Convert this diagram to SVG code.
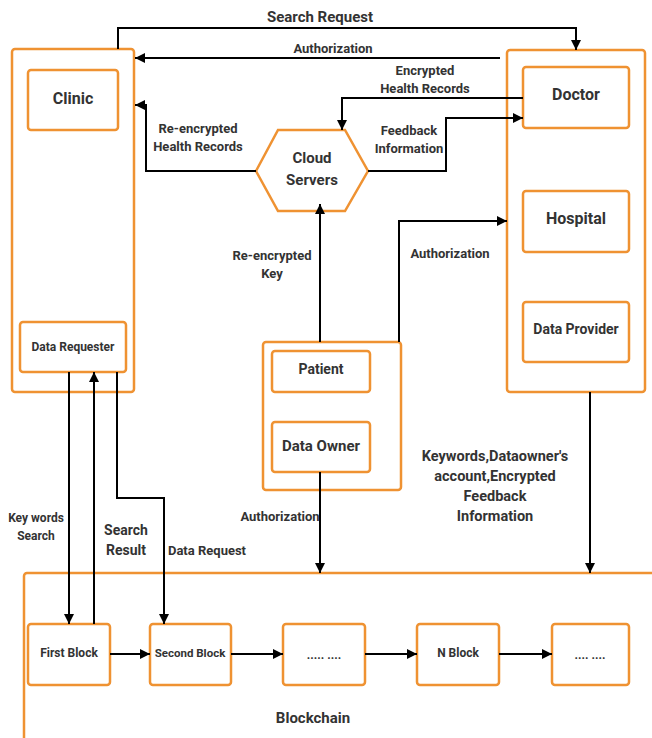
<svg xmlns="http://www.w3.org/2000/svg" width="652" height="738" viewBox="0 0 652 738">
<defs>
<marker id="ah" viewBox="0 0 10 10" refX="10" refY="5" markerWidth="10" markerHeight="10" markerUnits="userSpaceOnUse" orient="auto"><path d="M0,0 L10,5 L0,10 z" fill="#000"/></marker>
<style>
.box{fill:#fff;stroke:#EF9232;stroke-width:2.5}
.c{fill:none;stroke:#000;stroke-width:2;marker-end:url(#ah)}
text{font-family:Roboto,"Liberation Sans",sans-serif;font-weight:bold;fill:#333;text-anchor:middle}
.t16{font-size:16px}.t15{font-size:15px}.t14{font-size:14px}.t13{font-size:13px}.t12{font-size:12px}.t11{font-size:11.5px}.kw{font-size:14.5px}
</style>
</defs>
<rect width="652" height="738" fill="#fff"/>
<g id="clinic-group">
<rect class="box" x="12" y="49" width="122" height="343" rx="3"/>
</g>
<g id="clinic"><rect class="box" x="28" y="70" width="90" height="60" rx="3"/><text class="t16" x="73" y="104">Clinic</text></g>
<g id="data-requester"><rect class="box" x="20" y="322" width="106" height="50" rx="3"/><text class="t12" x="73" y="351">Data Requester</text></g>
<g id="provider-group"><rect class="box" x="507" y="50" width="138" height="342" rx="3"/></g>
<g id="doctor"><rect class="box" x="523" y="67" width="106" height="61" rx="3"/><text class="t16" x="576" y="100">Doctor</text></g>
<g id="hospital"><rect class="box" x="523" y="191" width="106" height="61" rx="3"/><text class="t16" x="576" y="224">Hospital</text></g>
<g id="data-provider"><rect class="box" x="523" y="302" width="106" height="60" rx="3"/><text class="t14" x="576" y="334">Data Provider</text></g>
<g id="cloud-servers"><polygon class="box" points="256,171 278,130 345,130 368,171 345,211 278,211"/><text class="t15" x="312" y="163">Cloud</text><text class="t15" x="312" y="185">Servers</text></g>
<g id="owner-group"><rect class="box" x="263" y="342" width="138" height="148" rx="3"/></g>
<g id="patient"><rect class="box" x="272" y="351" width="98" height="41" rx="3"/><text class="t14" x="321" y="374">Patient</text></g>
<g id="data-owner"><rect class="box" x="272" y="422" width="98" height="50" rx="3"/><text class="t15" x="321" y="451">Data Owner</text></g>
<g id="blockchain"><rect class="box" x="24" y="573" width="640" height="180" rx="3"/><text class="t15" x="313" y="723">Blockchain</text></g>
<g id="first-block"><rect class="box" x="28" y="624" width="82" height="61" rx="3"/><text class="t12" x="69" y="657">First Block</text></g>
<g id="second-block"><rect class="box" x="150" y="624" width="81" height="61" rx="3"/><text class="t11" x="190" y="657">Second Block</text></g>
<g id="dots-block1"><rect class="box" x="283" y="624" width="82" height="61" rx="3"/><text class="t12" x="324" y="659">..... ....</text></g>
<g id="n-block"><rect class="box" x="417" y="624" width="82" height="61" rx="3"/><text class="t12" x="458" y="657">N Block</text></g>
<g id="dots-block2"><rect class="box" x="552" y="624" width="77" height="61" rx="3"/><text class="t12" x="590" y="659">.... ....</text></g>
<g id="connectors">
<path class="c" d="M118,49 V28 H576 V50"/>
<path class="c" d="M500,58 H135"/>
<path class="c" d="M523,98 H342 V130"/>
<path class="c" d="M368,171 H446 V118 H523"/>
<path class="c" d="M256,171 H146 V105 H135"/>
<path class="c" d="M320,342 V204"/>
<path class="c" d="M399,342 V221 H507"/>
<path class="c" d="M69,372 V624"/>
<path class="c" d="M94,624 V372"/>
<path class="c" d="M117,372 V498 H164 V624"/>
<path class="c" d="M320,472 V573"/>
<path class="c" d="M590,392 V573"/>
<path class="c" d="M110,654 H150"/>
<path class="c" d="M231,654 H283"/>
<path class="c" d="M365,654 H417"/>
<path class="c" d="M499,654 H552"/>
</g>
<g id="labels">
<text class="t15" x="320" y="22">Search Request</text>
<text class="t13" x="333" y="53">Authorization</text>
<text class="t13" x="425" y="75">Encrypted</text>
<text class="t13" x="425" y="93">Health Records</text>
<text class="t13" x="409" y="135">Feedback</text>
<text class="t13" x="409" y="153">Information</text>
<text class="t13" x="198" y="133">Re-encrypted</text>
<text class="t13" x="198" y="151">Health Records</text>
<text class="t13" x="272" y="260">Re-encrypted</text>
<text class="t13" x="272" y="278">Key</text>
<text class="t13" x="450" y="258">Authorization</text>
<text class="kw" x="495" y="461">Keywords,Dataowner's</text>
<text class="kw" x="495" y="481">account,Encrypted</text>
<text class="kw" x="495" y="501">Feedback</text>
<text class="kw" x="495" y="521">Information</text>
<text class="t13" x="280" y="521">Authorization</text>
<text class="t12" x="36" y="522">Key words</text>
<text class="t12" x="36" y="540">Search</text>
<text class="t14" x="126" y="535">Search</text>
<text class="t14" x="126" y="555">Result</text>
<text class="t13" x="207" y="555">Data Request</text>
</g>
</svg>
